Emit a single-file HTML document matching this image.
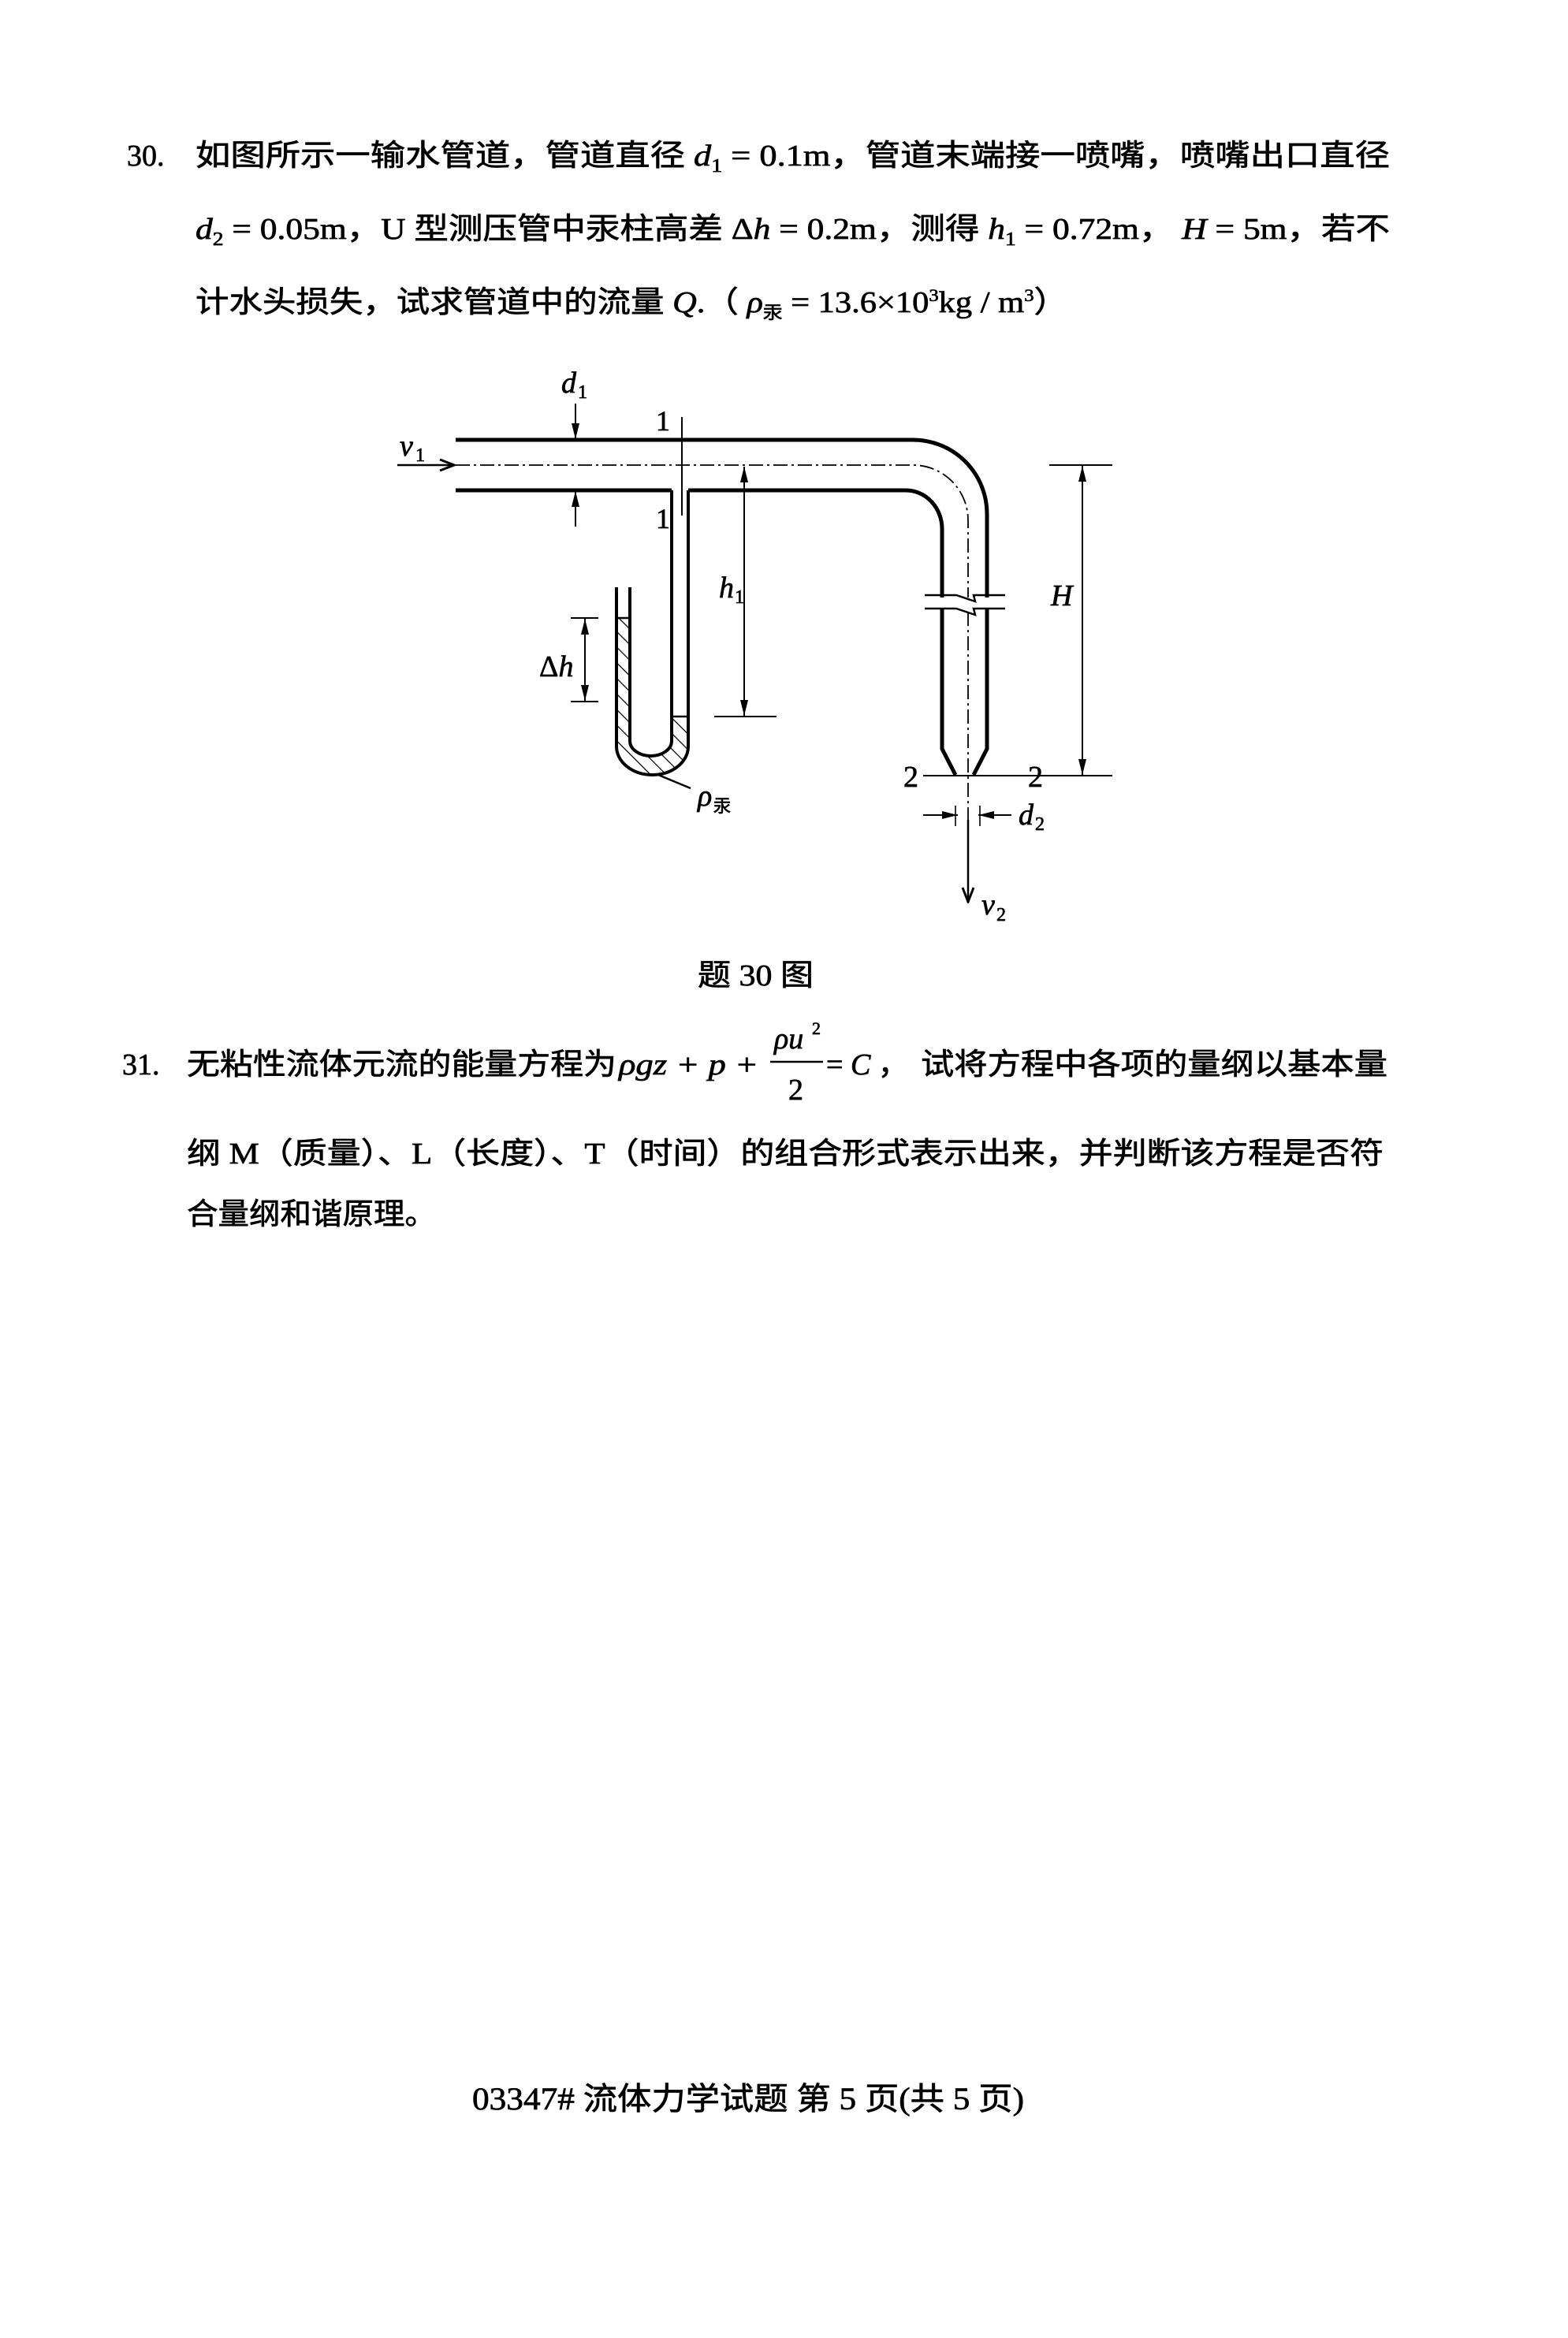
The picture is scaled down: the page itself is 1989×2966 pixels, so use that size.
<!DOCTYPE html>
<html><head><meta charset="utf-8"><style>
html,body{margin:0;padding:0;background:#fff;}
svg{display:block;}
text{font-family:"Liberation Serif","Noto Sans CJK SC",serif;fill:#000;stroke:#000;stroke-width:0.7;}
.i{font-style:italic;}
</style></head><body>
<svg width="1989" height="2966" viewBox="0 0 1989 2966" xmlns="http://www.w3.org/2000/svg" font-size="38">
<defs>
<marker id="ar" markerWidth="20" markerHeight="10" refX="20" refY="5" orient="auto" markerUnits="userSpaceOnUse">
<path d="M0,0 L20,5 L0,10 Z" fill="#000"/></marker>
<marker id="av" markerWidth="22" markerHeight="16" refX="20" refY="8" orient="auto" markerUnits="userSpaceOnUse">
<path d="M2,1 L20,8 L2,15" fill="none" stroke="#000" stroke-width="3"/></marker>
<pattern id="hat" patternUnits="userSpaceOnUse" width="14" height="14" patternTransform="rotate(-45)">
<rect width="14" height="14" fill="#fff"/><line x1="0" y1="0" x2="0" y2="14" stroke="#000" stroke-width="2.5"/></pattern>
</defs>

<!-- Question 30 text -->
<text x="161" y="210">30.</text>
<text x="248" y="210" textLength="1515" lengthAdjust="spacingAndGlyphs">如图所示一输水管道，管道直径 <tspan class="i">d</tspan><tspan style="font-size:24px" dy="8">1</tspan><tspan dy="-8"> = 0.1m，管道末端接一喷嘴，喷嘴出口直径</tspan></text>
<text x="248" y="303" textLength="1515" lengthAdjust="spacingAndGlyphs"><tspan class="i">d</tspan><tspan style="font-size:24px" dy="8">2</tspan><tspan dy="-8"> = 0.05m，U 型测压管中汞柱高差 Δ</tspan><tspan class="i">h</tspan> = 0.2m，测得 <tspan class="i">h</tspan><tspan style="font-size:24px" dy="8">1</tspan><tspan dy="-8"> = 0.72m， </tspan><tspan class="i">H</tspan> = 5m，若不</text>
<text x="248" y="396" textLength="1106" lengthAdjust="spacingAndGlyphs">计水头损失，试求管道中的流量 <tspan class="i">Q</tspan>.（ <tspan class="i">ρ</tspan><tspan style="font-size:22px" dy="8">汞</tspan><tspan dy="-8"> = 13.6×10</tspan><tspan style="font-size:22px" dy="-14">3</tspan><tspan dy="14">kg / m</tspan><tspan style="font-size:22px" dy="-14">3</tspan><tspan dy="14">）</tspan></text>

<!-- Diagram -->
<g fill="none" stroke="#000" stroke-width="5">
  <path d="M578,558 H1158 A94,94 0 0 1 1252,652 V950 L1235,983"/>
  <path d="M873,622 H1149 A46,49 0 0 1 1195,671 V950 L1212,983"/>
  <path d="M578,622 H852"/>
</g>
<!-- mercury -->
<path d="M782,784 H799 V940 A26.5,19 0 0 0 852,940 V909 H873 V947 A45.5,36 0 0 1 782,947 Z" fill="url(#hat)" stroke="#000" stroke-width="2.5"/>
<path d="M852,622 V940 M873,622 V947 A45.5,36 0 0 1 782,947 V745 M799,745 V940 A26.5,19 0 0 0 852,940" fill="none" stroke="#000" stroke-width="4"/>

<!-- centerline -->
<path d="M578,590 H1158 A70,70 0 0 1 1228,660 V1040" fill="none" stroke="#000" stroke-width="1.8" stroke-dasharray="18,5,3,5"/>
<!-- break -->
<rect x="1185" y="758" width="75" height="13" fill="#fff"/>
<path d="M1173,755 H1213 L1237,763 L1235,755 H1275 M1173,772 H1213 L1237,780 L1235,772 H1275" fill="none" stroke="#000" stroke-width="2.5"/>

<!-- section 1-1 -->
<line x1="865" y1="529" x2="865" y2="654" stroke="#000" stroke-width="2"/>
<text x="832" y="546" style="font-size:36px">1</text>
<text x="832" y="670" style="font-size:36px">1</text>

<!-- v1 -->
<line x1="504" y1="590" x2="576" y2="590" stroke="#000" stroke-width="2.5" marker-end="url(#av)"/>
<text class="i" x="507" y="578">v</text><text x="527" y="585" style="font-size:24px">1</text>

<!-- d1 -->
<text class="i" x="712" y="498">d</text><text x="733" y="505" style="font-size:24px">1</text>
<line x1="730" y1="512" x2="730" y2="557" stroke="#000" stroke-width="2" marker-end="url(#ar)"/>
<line x1="730" y1="668" x2="730" y2="623" stroke="#000" stroke-width="2" marker-end="url(#ar)"/>

<!-- h1 -->
<line x1="944" y1="750" x2="944" y2="592" stroke="#000" stroke-width="2" marker-end="url(#ar)"/>
<line x1="944" y1="750" x2="944" y2="908" stroke="#000" stroke-width="2" marker-end="url(#ar)"/>
<line x1="906" y1="909" x2="985" y2="909" stroke="#000" stroke-width="2"/>
<text class="i" x="912" y="758">h</text><text x="932" y="765" style="font-size:24px">1</text>

<!-- delta h -->
<line x1="724" y1="784" x2="759" y2="784" stroke="#000" stroke-width="2"/>
<line x1="724" y1="890" x2="759" y2="890" stroke="#000" stroke-width="2"/>
<line x1="742" y1="837" x2="742" y2="785" stroke="#000" stroke-width="2" marker-end="url(#ar)"/>
<line x1="742" y1="837" x2="742" y2="889" stroke="#000" stroke-width="2" marker-end="url(#ar)"/>
<text x="684" y="858">Δ<tspan class="i">h</tspan></text>

<!-- rho -->
<line x1="835" y1="983" x2="876" y2="1000" stroke="#000" stroke-width="2.5"/>
<text class="i" x="885" y="1022">ρ</text><text x="905" y="1030" style="font-size:22px">汞</text>

<!-- H -->
<line x1="1331" y1="590" x2="1411" y2="590" stroke="#000" stroke-width="2"/>
<line x1="1373" y1="790" x2="1373" y2="591" stroke="#000" stroke-width="2" marker-end="url(#ar)"/>
<line x1="1373" y1="790" x2="1373" y2="983" stroke="#000" stroke-width="2" marker-end="url(#ar)"/>
<text class="i" x="1333" y="768">H</text>

<!-- 2-2 -->
<line x1="1171" y1="984" x2="1411" y2="984" stroke="#000" stroke-width="2"/>
<text x="1146" y="998">2</text>
<text x="1304" y="998">2</text>

<!-- d2 -->
<line x1="1171" y1="1034" x2="1215" y2="1034" stroke="#000" stroke-width="2" marker-end="url(#ar)"/>
<line x1="1283" y1="1034" x2="1241" y2="1034" stroke="#000" stroke-width="2" marker-end="url(#ar)"/>
<line x1="1212" y1="1022" x2="1212" y2="1048" stroke="#000" stroke-width="1.6"/>
<line x1="1243" y1="1022" x2="1243" y2="1048" stroke="#000" stroke-width="1.6"/>
<text class="i" x="1292" y="1046">d</text><text x="1313" y="1053" style="font-size:24px">2</text>

<!-- v2 -->
<line x1="1228" y1="1040" x2="1228" y2="1144" stroke="#000" stroke-width="2.5" marker-end="url(#av)"/>
<text class="i" x="1245" y="1160">v</text><text x="1264" y="1168" style="font-size:24px">2</text>

<!-- caption -->
<text x="885" y="1250" textLength="147" lengthAdjust="spacingAndGlyphs">题 30 图</text>

<!-- Question 31 -->
<text x="155" y="1363">31.</text>
<text x="237" y="1363" textLength="545" lengthAdjust="spacingAndGlyphs">无粘性流体元流的能量方程为</text>
<text class="i" x="785" y="1363" textLength="177" lengthAdjust="spacingAndGlyphs">ρgz + p +</text>
<line x1="977" y1="1347" x2="1044" y2="1347" stroke="#000" stroke-width="2.5"/>
<text class="i" x="982" y="1330">ρu</text><text x="1030" y="1312" style="font-size:22px">2</text>
<text x="1000" y="1395">2</text>
<text x="1048" y="1363">= <tspan class="i">C</tspan> ，</text>
<text x="1168" y="1363" textLength="592" lengthAdjust="spacingAndGlyphs">试将方程中各项的量纲以基本量</text>
<text x="237" y="1476" textLength="1518" lengthAdjust="spacingAndGlyphs">纲 M（质量）、L（长度）、T（时间）的组合形式表示出来，并判断该方程是否符</text>
<text x="237" y="1553" textLength="316" lengthAdjust="spacingAndGlyphs">合量纲和谐原理。</text>

<!-- footer -->
<text x="599" y="2676" style="font-size:40px" textLength="700" lengthAdjust="spacingAndGlyphs">03347# 流体力学试题 第 5 页(共 5 页)</text>
</svg>
</body></html>
